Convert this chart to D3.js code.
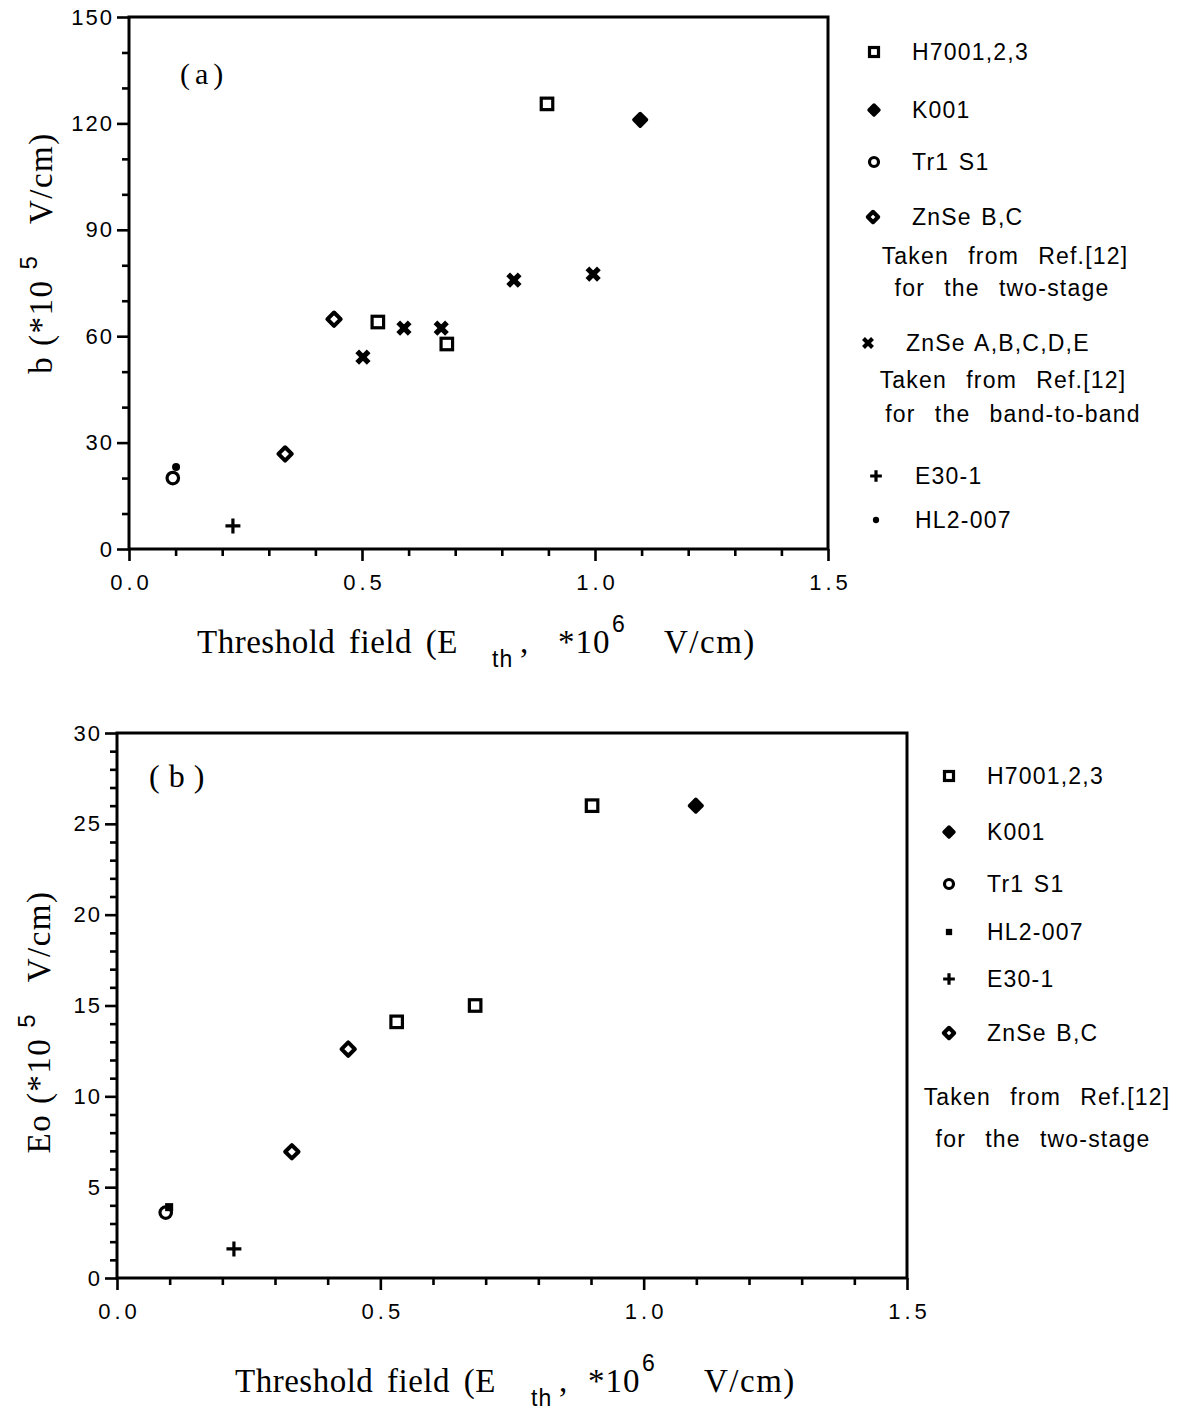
<!DOCTYPE html>
<html><head><meta charset="utf-8">
<script src="https://cdn.jsdelivr.net/npm/d3@7"></script>
<style>body{margin:0;background:#fff}</style>
</head><body><svg id="c" width="1185" height="1410"></svg>
<script>
// ---------- data ----------
const xMajor = [0, 0.5, 1.0, 1.5];
const xMinor = [0.1,0.2,0.3,0.4,0.6,0.7,0.8,0.9,1.1,1.2,1.3,1.4];
const xTickLabels = ["0.0", "0.5", "1.0", "1.5"];
const yMajorA = [0, 30, 60, 90, 120, 150];
const yMinorA = [10,20,40,50,70,80,100,110,130,140];
const yMajorB = [0, 5, 10, 15, 20, 25, 30];
const yMinorB = [1,2,3,4,6,7,8,9,11,12,13,14,16,17,18,19,21,22,23,24,26,27,28,29];

// panel (a): [x (E_th, 1e6 V/cm), b (1e5 V/cm)]
const aH7001  = [[0.897,125.5],[0.534,64.0],[0.682,57.8]];
const aK001   = [[1.097,121.0]];
const aTr1S1  = [[0.094,20.0]];
const aZnSeBC = [[0.440,64.8],[0.335,26.8]];
const aZnSeAE = [[0.502,54.1],[0.590,62.3],[0.670,62.3],[0.826,75.8],[0.996,77.5]];
const aE301   = [[0.223,6.5]];
const aHL2    = [[0.101,23.1]];

// panel (b): [x, Eo (1e5 V/cm)]
const bH7001  = [[0.531,14.1],[0.680,15.0],[0.902,26.0]];
const bK001   = [[1.099,26.0]];
const bTr1S1  = [[0.0925,3.6]];
const bHL2    = [[0.099,3.9]];
const bE301   = [[0.222,1.6]];
const bZnSeBC = [[0.332,6.95],[0.439,12.6]];

const legendA = ["H7001,2,3","K001","Tr1 S1","ZnSe B,C","ZnSe A,B,C,D,E","E30-1","HL2-007"];
const noteA1 = ["Taken  from  Ref.[12]","for  the  two-stage"];
const noteA2 = ["Taken  from  Ref.[12]","for  the  band-to-band"];
const legendB = ["H7001,2,3","K001","Tr1 S1","HL2-007","E30-1","ZnSe B,C"];
const noteB = ["Taken  from  Ref.[12]","for  the  two-stage"];

// ---------- drawing ----------
const svg = d3.select("#c");
const SANS = "'Liberation Sans', Arial, Helvetica, sans-serif";
const SERIF = "'Liberation Serif', 'Times New Roman', serif";

function marker(g, type, cx, cy, s) {
  s = s || 1;
  const m = g.append("g").attr("transform", `translate(${cx},${cy})`);
  if (type === "square") {
    m.append("rect").attr("x",-5*s).attr("y",-5*s).attr("width",10*s).attr("height",10*s)
      .attr("fill","#fff").attr("stroke","#000").attr("stroke-width",3.2);
  } else if (type === "fdiamond") {
    const r = 5.5*s;
    m.append("path").attr("d",`M0,${-r}L${r},0L0,${r}L${-r},0Z`)
      .attr("fill","#000").attr("stroke","#000").attr("stroke-width",3.5).attr("stroke-linejoin","round");
  } else if (type === "circle") {
    m.append("circle").attr("r",5*s).attr("fill","#fff").attr("stroke","#000").attr("stroke-width",3.2);
  } else if (type === "odiamond") {
    const r = 5.8*s;
    m.append("path").attr("d",`M0,${-r}L${r},0L0,${r}L${-r},0Z`)
      .attr("fill","#fff").attr("stroke","#000").attr("stroke-width",4).attr("stroke-linejoin","round");
  } else if (type === "x") {
    const r = 5*s;
    m.append("path").attr("d",`M${-r},${-r}L${r},${r}M${r},${-r}L${-r},${r}`)
      .attr("stroke","#000").attr("stroke-width",4.6*s).attr("fill","none");
    m.append("rect").attr("x",-3*s).attr("y",-3*s).attr("width",6*s).attr("height",6*s).attr("fill","#000");
  } else if (type === "plus") {
    const r = 6.5*s;
    m.append("path").attr("d",`M${-r},0L${r},0M0,${-r}L0,${r}`)
      .attr("stroke","#000").attr("stroke-width",3.2).attr("fill","none");
  } else if (type === "dot") {
    m.append("circle").attr("r",3.5*s).attr("fill","#000");
  } else if (type === "fsquare") {
    m.append("rect").attr("x",-3.5*s).attr("y",-3.5*s).attr("width",7*s).attr("height",7*s).attr("fill","#000");
  }
}

function panel(opt) {
  const x = d3.scaleLinear().domain([0,1.5]).range([opt.x0, opt.x1]);
  const y = d3.scaleLinear().domain([0,opt.ymax]).range([opt.y0, opt.y1]);
  const g = svg.append("g");

  const xm = g.append("g").attr("transform",`translate(0,${opt.y0})`)
    .call(d3.axisBottom(x).tickValues(xMinor).tickSize(7).tickFormat(""));
  const ym = g.append("g").attr("transform",`translate(${opt.x0},0)`)
    .call(d3.axisLeft(y).tickValues(opt.yMinor).tickSize(7).tickFormat(""));
  const xa = g.append("g").attr("transform",`translate(0,${opt.y0})`)
    .call(d3.axisBottom(x).tickValues(xMajor).tickSize(12).tickPadding(13)
      .tickFormat((d,i)=>xTickLabels[i]));
  const ya = g.append("g").attr("transform",`translate(${opt.x0},0)`)
    .call(d3.axisLeft(y).tickValues(opt.yMajor).tickSize(12).tickPadding(5).tickFormat(d3.format("d")));
  [xm,ym,xa,ya].forEach(a=>{
    a.selectAll(".domain").remove();
    a.selectAll(".tick line").attr("stroke","#000").attr("stroke-width",2.6);
  });
  xa.selectAll("text").attr("font-family",SANS).attr("font-size",22).attr("fill","#000")
    .attr("letter-spacing","4px").attr("dx","2px");
  ya.selectAll("text").attr("font-family",SANS).attr("font-size",22).attr("fill","#000")
    .attr("letter-spacing","2px").attr("dx","2px");

  g.append("rect").attr("x",opt.x0).attr("y",opt.y1).attr("width",opt.x1-opt.x0).attr("height",opt.y0-opt.y1)
    .attr("fill","none").attr("stroke","#000").attr("stroke-width",3);

  opt.series.forEach(sr=>{
    sr.data.forEach(d=>marker(g, sr.type, x(d[0]), y(d[1]), 1.15));
  });

  g.append("text").attr("x",opt.lab[0]).attr("y",opt.lab[1]).attr("font-family",SERIF)
    .attr("font-size",opt.labSize).attr("letter-spacing",opt.labLs).text(opt.label);

  const t = opt.xt;
  const xt = g.append("g").attr("font-family",SERIF).attr("font-size",33).attr("fill","#000");
  xt.append("text").attr("x",t.x).attr("y",t.y).attr("letter-spacing","0.5px").attr("word-spacing","5px").text("Threshold field (E");
  xt.append("text").attr("x",t.sub).attr("y",t.y+14).attr("font-family",SANS).attr("font-size",23).attr("letter-spacing","1px").text("th");
  xt.append("text").attr("x",t.sub+28).attr("y",t.y).text(",");
  xt.append("text").attr("x",t.ten).attr("y",t.y).attr("letter-spacing","1px").text("*10");
  xt.append("text").attr("x",t.ten+54).attr("y",t.y-21).attr("font-family",SANS).attr("font-size",23).text("6");
  xt.append("text").attr("x",t.vcm).attr("y",t.y).attr("letter-spacing","1.5px").text("V/cm)");

  const yt = g.append("text").attr("transform",`translate(${opt.yt[0]},${opt.yt[1]}) rotate(-90)`)
    .attr("text-anchor","middle").attr("font-family",SERIF).attr("font-size",33).attr("fill","#000");
  yt.append("tspan").attr("letter-spacing","1.5px").text(opt.ylab);
  yt.append("tspan").attr("dx",10).attr("dy",-15).attr("font-family",SANS).attr("font-size",24).text("5");
  yt.append("tspan").attr("dx",32).attr("dy",15).attr("letter-spacing","1.5px").text("V/cm)");
  return g;
}

panel({x0:129, x1:828, y0:549, y1:17, ymax:150, yMajor:yMajorA, yMinor:yMinorA,
  label:"(a)", lab:[180,84], labSize:30, labLs:"5px",
  xt:{x:197, y:653, sub:492, ten:558, vcm:664},
  yt:[52,253], ylab:"b (*10",
  series:[
    {type:"square", data:aH7001},
    {type:"fdiamond", data:aK001},
    {type:"circle", data:aTr1S1},
    {type:"odiamond", data:aZnSeBC},
    {type:"x", data:aZnSeAE},
    {type:"plus", data:aE301},
    {type:"dot", data:aHL2}
  ]});

panel({x0:117, x1:907, y0:1278, y1:733, ymax:30, yMajor:yMajorB, yMinor:yMinorB,
  label:"(b)", lab:[149,787], labSize:32, labLs:"9px",
  xt:{x:235, y:1392, sub:531, ten:588, vcm:704},
  yt:[50,1022], ylab:"Eo (*10",
  series:[
    {type:"square", data:bH7001},
    {type:"fdiamond", data:bK001},
    {type:"circle", data:bTr1S1},
    {type:"fsquare", data:bHL2},
    {type:"plus", data:bE301},
    {type:"odiamond", data:bZnSeBC}
  ]});

function legText(x, y, s, anchor) {
  svg.append("text").attr("x",x).attr("y",y).attr("font-family",SANS).attr("font-size",23)
    .attr("letter-spacing","1.2px").attr("word-spacing","2px").attr("text-anchor",anchor||"start").attr("fill","#000")
    .style("white-space","pre").text(s);
}
const legAtypes = ["square","fdiamond","circle","odiamond","x","plus","dot"];
const legAy = [52,110,162,217,343,476,520];
const legAmx = [874,874,874,873,868,876,876];
const legAtx = [912,912,912,912,906,915,915];
legendA.forEach((s,i)=>{
  marker(svg, legAtypes[i], legAmx[i], legAy[i], 0.9);
  legText(legAtx[i], legAy[i]+8, s);
});
legText(1005, 264, noteA1[0], "middle");
legText(1002, 296, noteA1[1], "middle");
legText(1003, 388, noteA2[0], "middle");
legText(1013, 422, noteA2[1], "middle");

const legBtypes = ["square","fdiamond","circle","fsquare","plus","odiamond"];
const legBy = [776,832,884,932,979,1033];
legendB.forEach((s,i)=>{
  marker(svg, legBtypes[i], 949, legBy[i], 0.9);
  legText(987, legBy[i]+8, s);
});
legText(1047, 1105, noteB[0], "middle");
legText(1043, 1147, noteB[1], "middle");
</script></body></html>
